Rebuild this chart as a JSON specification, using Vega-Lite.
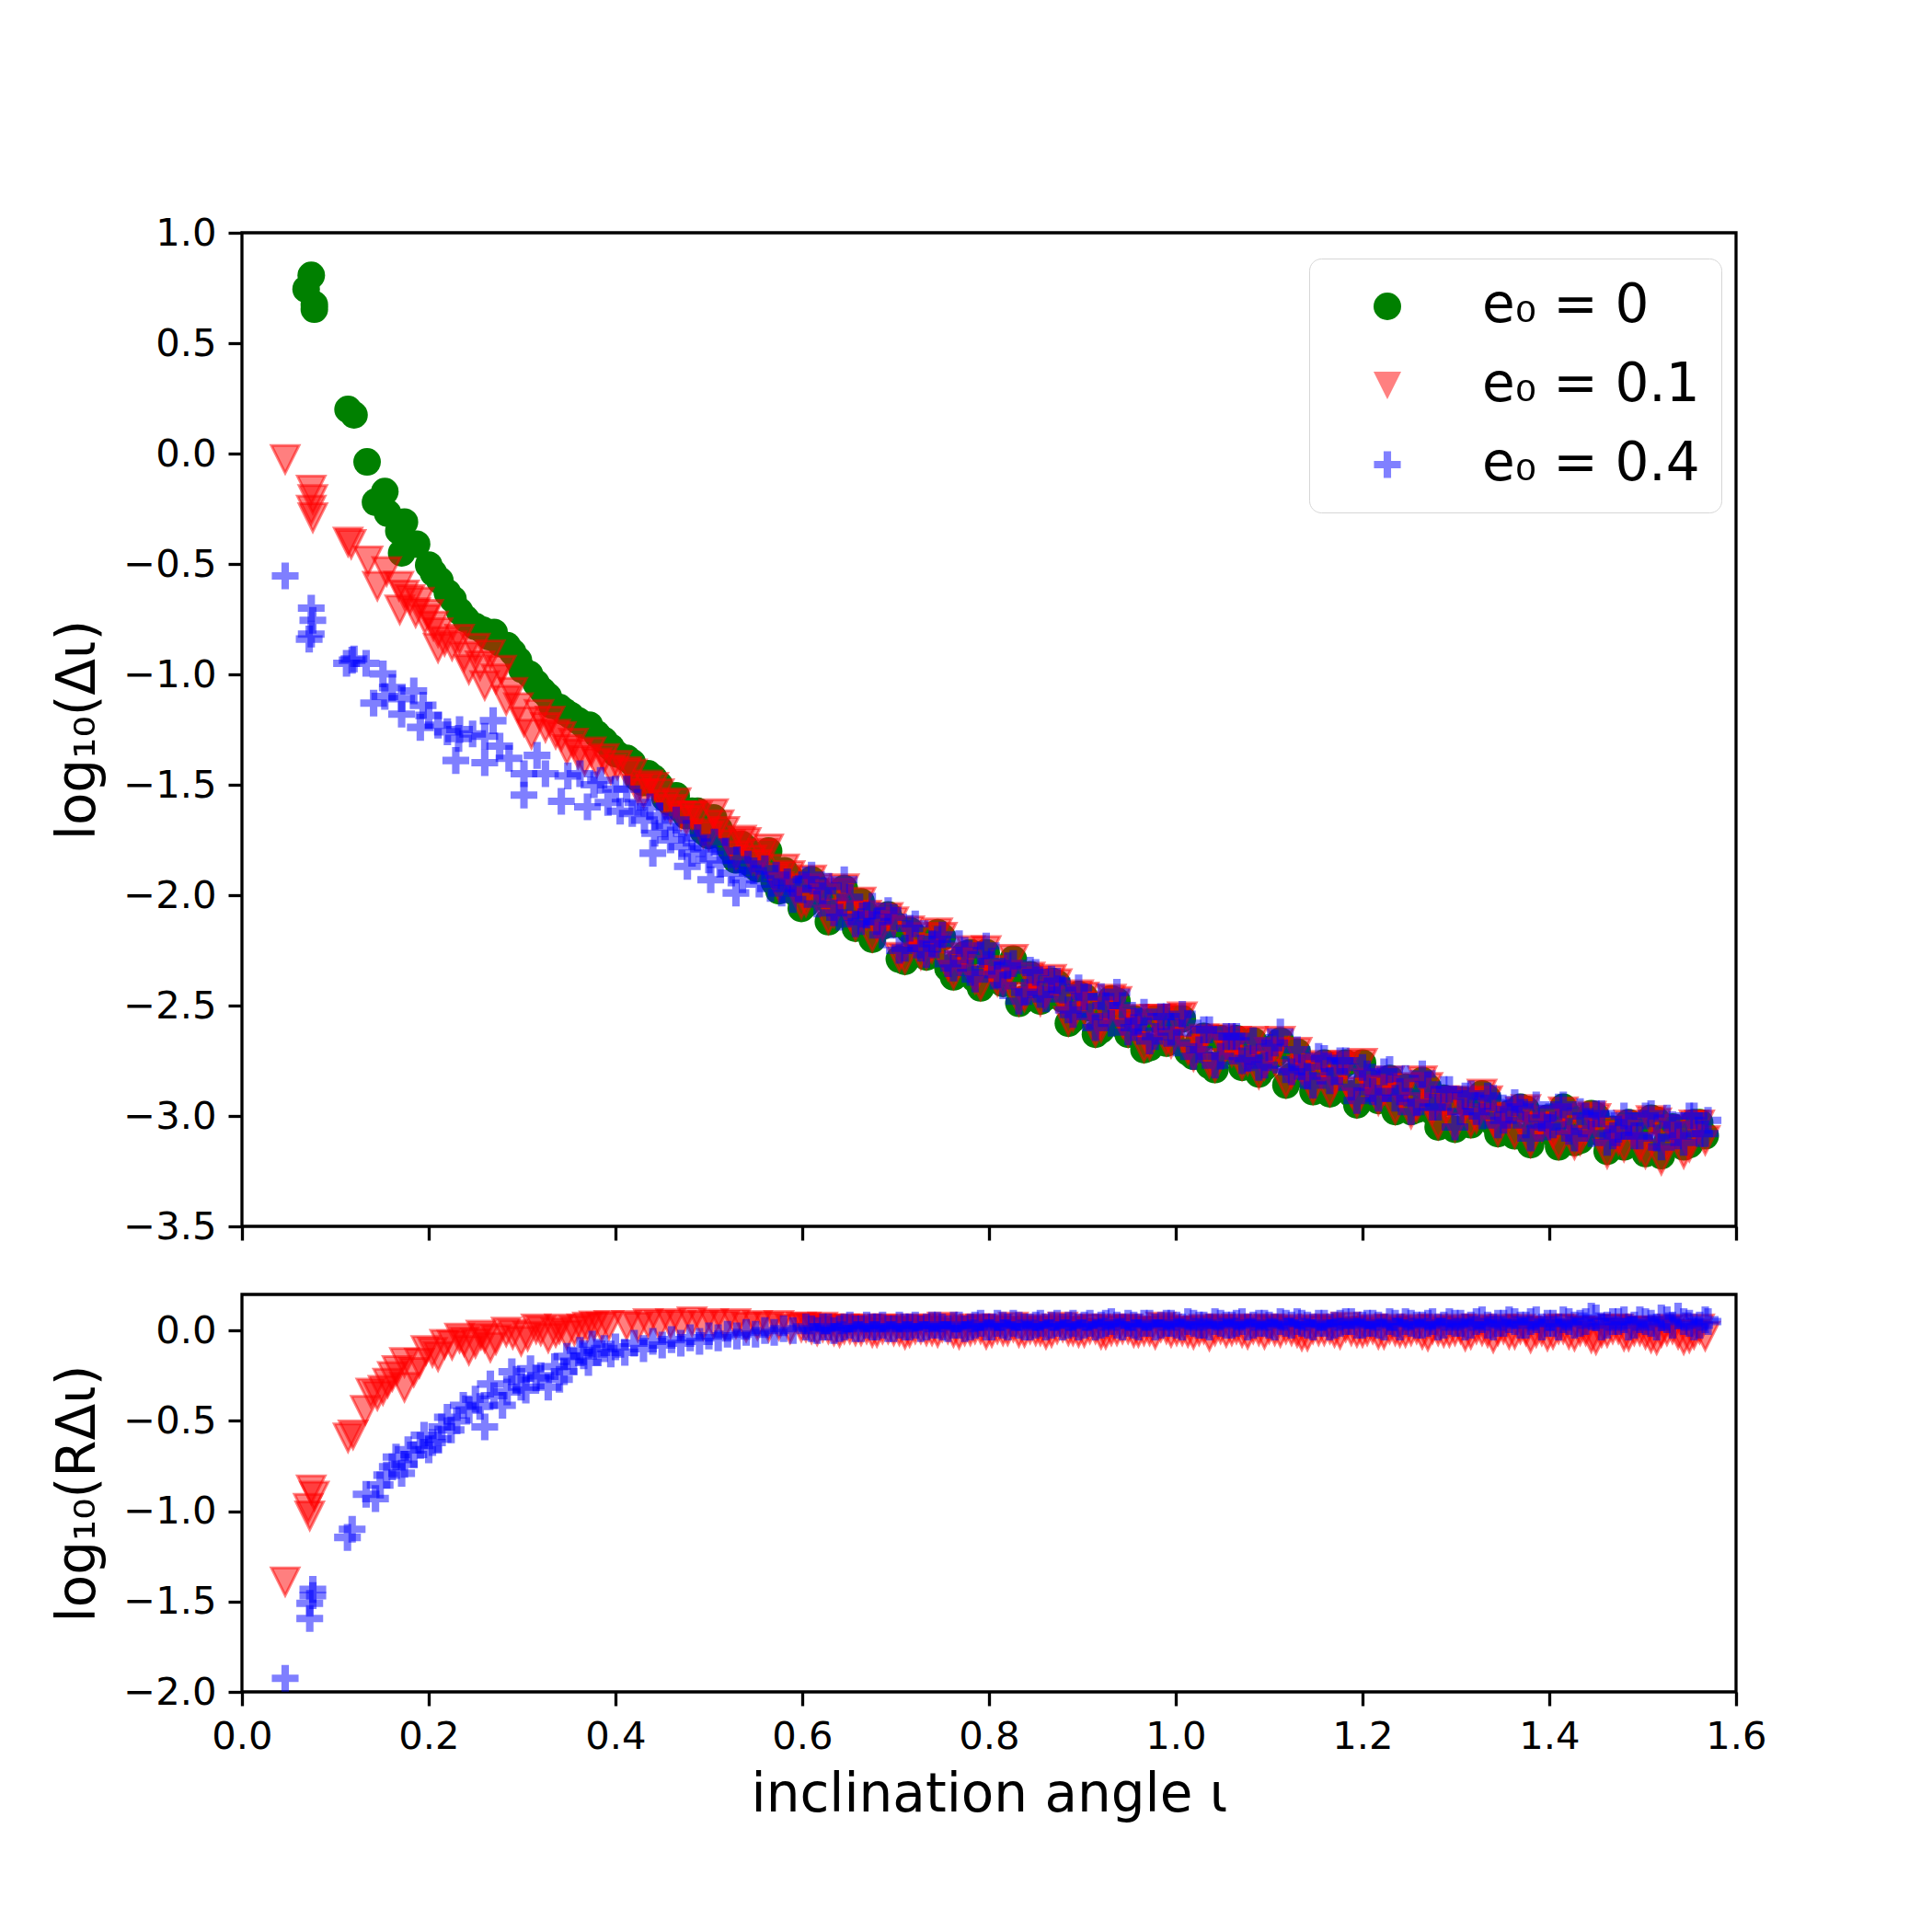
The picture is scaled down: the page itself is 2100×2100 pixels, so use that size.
{
  "$schema": "https://vega.github.io/schema/vega-lite/v6.json",
  "background": "white",
  "padding": {"left": 55, "top": 231, "right": 0, "bottom": 0},
  "datasets": {
    "top": [
      {"s":"g","x":0.0742,"y":0.807},{"s":"g","x":0.0687,"y":0.745},{"s":"g","x":0.0775,"y":0.675},{"s":"g","x":0.0775,"y":0.654},
      {"s":"g","x":0.1136,"y":0.2},{"s":"g","x":0.12,"y":0.175},{"s":"g","x":0.134,"y":-0.038},{"s":"g","x":0.153,"y":-0.172},
      {"s":"g","x":0.143,"y":-0.22},{"s":"g","x":0.156,"y":-0.27},{"s":"g","x":0.174,"y":-0.31},{"s":"g","x":0.168,"y":-0.35},
      {"s":"g","x":0.187,"y":-0.41},{"s":"g","x":0.171,"y":-0.45},{"s":"g","x":0.2,"y":-0.505},{"s":"g","x":0.205,"y":-0.54},
      {"s":"g","x":0.212,"y":-0.575},{"s":"g","x":0.22,"y":-0.63},{"s":"g","x":0.226,"y":-0.66},{"s":"g","x":0.233,"y":-0.714},
      {"s":"g","x":0.24,"y":-0.75},{"s":"g","x":0.25,"y":-0.783},{"s":"g","x":0.258,"y":-0.8},{"s":"g","x":0.265,"y":-0.83},
      {"s":"g","x":0.27,"y":-0.81},{"s":"g","x":0.277,"y":-0.86},{"s":"g","x":0.284,"y":-0.87},{"s":"g","x":0.29,"y":-0.9},
      {"s":"g","x":0.296,"y":-0.936},{"s":"g","x":0.3,"y":-0.978},{"s":"g","x":0.308,"y":-1.0},{"s":"g","x":0.315,"y":-1.04},
      {"s":"g","x":0.322,"y":-1.075},{"s":"g","x":0.328,"y":-1.1},{"s":"g","x":0.332,"y":-1.14},{"s":"g","x":0.34,"y":-1.15},
      {"s":"g","x":0.346,"y":-1.17},{"s":"g","x":0.352,"y":-1.186},{"s":"g","x":0.36,"y":-1.21},{"s":"g","x":0.366,"y":-1.23},
      {"s":"g","x":0.372,"y":-1.23},{"s":"g","x":0.38,"y":-1.27},{"s":"g","x":0.388,"y":-1.3},{"s":"g","x":0.395,"y":-1.33},
      {"s":"g","x":0.401,"y":-1.36},
      {"s":"g","x":0.412,"y":-1.38},{"s":"g","x":0.424,"y":-1.47},{"s":"g","x":0.435,"y":-1.45},{"s":"g","x":0.447,"y":-1.5},
      {"s":"g","x":0.459,"y":-1.58},{"s":"g","x":0.47,"y":-1.61},{"s":"g","x":0.482,"y":-1.62},{"s":"g","x":0.494,"y":-1.71},
      {"s":"g","x":0.505,"y":-1.65},{"s":"g","x":0.517,"y":-1.74},{"s":"g","x":0.529,"y":-1.84},{"s":"g","x":0.54,"y":-1.79},
      {"s":"g","x":0.552,"y":-1.88},{"s":"g","x":0.564,"y":-1.8},{"s":"g","x":0.575,"y":-1.98},{"s":"g","x":0.587,"y":-1.92},
      {"s":"g","x":0.599,"y":-2.06},{"s":"g","x":0.61,"y":-1.93},{"s":"g","x":0.622,"y":-2.01},{"s":"g","x":0.634,"y":-2.09},
      {"s":"g","x":0.645,"y":-1.97},{"s":"g","x":0.657,"y":-2.15},{"s":"g","x":0.669,"y":-2.09},{"s":"g","x":0.68,"y":-2.15},
      {"s":"g","x":0.692,"y":-2.09},{"s":"g","x":0.704,"y":-2.29},{"s":"g","x":0.715,"y":-2.16},{"s":"g","x":0.727,"y":-2.26},
      {"s":"g","x":0.739,"y":-2.25},{"s":"g","x":0.75,"y":-2.19},{"s":"g","x":0.762,"y":-2.37},{"s":"g","x":0.774,"y":-2.27},
      {"s":"g","x":0.785,"y":-2.38},{"s":"g","x":0.797,"y":-2.26},{"s":"g","x":0.809,"y":-2.38},{"s":"g","x":0.82,"y":-2.36},
      {"s":"g","x":0.832,"y":-2.49},{"s":"g","x":0.844,"y":-2.36},{"s":"g","x":0.855,"y":-2.48},{"s":"g","x":0.867,"y":-2.39},
      {"s":"g","x":0.879,"y":-2.47},{"s":"g","x":0.89,"y":-2.56},{"s":"g","x":0.902,"y":-2.46},{"s":"g","x":0.914,"y":-2.63},
      {"s":"g","x":0.925,"y":-2.52},{"s":"g","x":0.937,"y":-2.48},{"s":"g","x":0.949,"y":-2.63},{"s":"g","x":0.96,"y":-2.59},
      {"s":"g","x":0.972,"y":-2.69},{"s":"g","x":0.984,"y":-2.56},{"s":"g","x":0.995,"y":-2.66},{"s":"g","x":1.007,"y":-2.56},
      {"s":"g","x":1.019,"y":-2.73},{"s":"g","x":1.03,"y":-2.64},{"s":"g","x":1.042,"y":-2.79},{"s":"g","x":1.054,"y":-2.68},
      {"s":"g","x":1.065,"y":-2.65},{"s":"g","x":1.077,"y":-2.76},{"s":"g","x":1.089,"y":-2.81},{"s":"g","x":1.1,"y":-2.7},
      {"s":"g","x":1.112,"y":-2.66},{"s":"g","x":1.124,"y":-2.82},{"s":"g","x":1.135,"y":-2.78},{"s":"g","x":1.147,"y":-2.89},
      {"s":"g","x":1.159,"y":-2.76},{"s":"g","x":1.17,"y":-2.84},{"s":"g","x":1.182,"y":-2.76},{"s":"g","x":1.194,"y":-2.95},
      {"s":"g","x":1.205,"y":-2.84},{"s":"g","x":1.217,"y":-2.93},{"s":"g","x":1.229,"y":-2.83},{"s":"g","x":1.24,"y":-2.91},
      {"s":"g","x":1.252,"y":-2.98},{"s":"g","x":1.264,"y":-2.84},{"s":"g","x":1.275,"y":-2.98},{"s":"g","x":1.287,"y":-2.92},
      {"s":"g","x":1.299,"y":-3.06},{"s":"g","x":1.31,"y":-2.93},{"s":"g","x":1.322,"y":-3.01},{"s":"g","x":1.334,"y":-2.92},
      {"s":"g","x":1.345,"y":-3.08},{"s":"g","x":1.357,"y":-2.99},{"s":"g","x":1.369,"y":-2.96},{"s":"g","x":1.38,"y":-3.13},
      {"s":"g","x":1.392,"y":-3.03},{"s":"g","x":1.404,"y":-3.08},{"s":"g","x":1.415,"y":-2.96},{"s":"g","x":1.427,"y":-3.12},
      {"s":"g","x":1.439,"y":-3.03},{"s":"g","x":1.45,"y":-3.0},{"s":"g","x":1.462,"y":-3.16},{"s":"g","x":1.474,"y":-3.08},
      {"s":"g","x":1.485,"y":-3.03},{"s":"g","x":1.497,"y":-3.12},{"s":"g","x":1.509,"y":-3.01},{"s":"g","x":1.52,"y":-3.18},
      {"s":"g","x":1.532,"y":-3.05},{"s":"g","x":1.544,"y":-3.14},{"s":"g","x":1.555,"y":-3.03},{"s":"g","x":1.567,"y":-3.09},
      {"s":"g","x":0.418,"y":-1.4},{"s":"g","x":0.43,"y":-1.49},{"s":"g","x":0.441,"y":-1.47},{"s":"g","x":0.453,"y":-1.56},
      {"s":"g","x":0.465,"y":-1.55},{"s":"g","x":0.476,"y":-1.64},{"s":"g","x":0.488,"y":-1.62},{"s":"g","x":0.5,"y":-1.73},
      {"s":"g","x":0.511,"y":-1.7},{"s":"g","x":0.523,"y":-1.79},{"s":"g","x":0.535,"y":-1.77},{"s":"g","x":0.546,"y":-1.86},
      {"s":"g","x":0.558,"y":-1.83},{"s":"g","x":0.57,"y":-1.94},{"s":"g","x":0.581,"y":-1.89},{"s":"g","x":0.593,"y":-1.99},
      {"s":"g","x":0.604,"y":-2.04},{"s":"g","x":0.616,"y":-1.97},{"s":"g","x":0.628,"y":-2.12},{"s":"g","x":0.64,"y":-1.99},
      {"s":"g","x":0.651,"y":-2.1},{"s":"g","x":0.663,"y":-2.03},{"s":"g","x":0.675,"y":-2.2},{"s":"g","x":0.686,"y":-2.14},
      {"s":"g","x":0.698,"y":-2.13},{"s":"g","x":0.71,"y":-2.3},{"s":"g","x":0.721,"y":-2.19},{"s":"g","x":0.733,"y":-2.28},
      {"s":"g","x":0.745,"y":-2.17},{"s":"g","x":0.756,"y":-2.33},{"s":"g","x":0.768,"y":-2.3},{"s":"g","x":0.78,"y":-2.26},
      {"s":"g","x":0.791,"y":-2.42},{"s":"g","x":0.803,"y":-2.34},{"s":"g","x":0.815,"y":-2.4},{"s":"g","x":0.826,"y":-2.29},
      {"s":"g","x":0.838,"y":-2.47},{"s":"g","x":0.85,"y":-2.39},{"s":"g","x":0.861,"y":-2.46},{"s":"g","x":0.873,"y":-2.4},
      {"s":"g","x":0.885,"y":-2.58},{"s":"g","x":0.896,"y":-2.45},{"s":"g","x":0.908,"y":-2.51},{"s":"g","x":0.92,"y":-2.61},
      {"s":"g","x":0.931,"y":-2.47},{"s":"g","x":0.943,"y":-2.59},{"s":"g","x":0.955,"y":-2.56},{"s":"g","x":0.966,"y":-2.7},
      {"s":"g","x":0.978,"y":-2.56},{"s":"g","x":0.99,"y":-2.67},{"s":"g","x":1.001,"y":-2.56},{"s":"g","x":1.013,"y":-2.71},
      {"s":"g","x":1.025,"y":-2.66},{"s":"g","x":1.036,"y":-2.77},{"s":"g","x":1.048,"y":-2.65},{"s":"g","x":1.06,"y":-2.71},
      {"s":"g","x":1.071,"y":-2.78},{"s":"g","x":1.083,"y":-2.66},{"s":"g","x":1.095,"y":-2.78},{"s":"g","x":1.106,"y":-2.72},
      {"s":"g","x":1.118,"y":-2.86},{"s":"g","x":1.13,"y":-2.71},{"s":"g","x":1.141,"y":-2.81},{"s":"g","x":1.153,"y":-2.78},
      {"s":"g","x":1.165,"y":-2.9},{"s":"g","x":1.176,"y":-2.78},{"s":"g","x":1.188,"y":-2.9},{"s":"g","x":1.2,"y":-2.76},
      {"s":"g","x":1.211,"y":-2.89},{"s":"g","x":1.223,"y":-2.88},{"s":"g","x":1.235,"y":-2.98},{"s":"g","x":1.246,"y":-2.87},
      {"s":"g","x":1.258,"y":-2.97},{"s":"g","x":1.27,"y":-2.87},{"s":"g","x":1.281,"y":-3.05},{"s":"g","x":1.293,"y":-2.94},
      {"s":"g","x":1.305,"y":-2.93},{"s":"g","x":1.316,"y":-3.04},{"s":"g","x":1.328,"y":-2.9},{"s":"g","x":1.34,"y":-3.03},
      {"s":"g","x":1.351,"y":-3.01},{"s":"g","x":1.363,"y":-3.09},{"s":"g","x":1.375,"y":-2.97},{"s":"g","x":1.386,"y":-3.05},
      {"s":"g","x":1.398,"y":-3.01},{"s":"g","x":1.41,"y":-3.14},{"s":"g","x":1.421,"y":-3.0},{"s":"g","x":1.433,"y":-3.11},
      {"s":"g","x":1.445,"y":-2.99},{"s":"g","x":1.456,"y":-3.08},{"s":"g","x":1.468,"y":-3.06},{"s":"g","x":1.48,"y":-3.14},
      {"s":"g","x":1.491,"y":-3.05},{"s":"g","x":1.503,"y":-3.17},{"s":"g","x":1.515,"y":-3.02},{"s":"g","x":1.526,"y":-3.12},
      {"s":"g","x":1.538,"y":-3.08},{"s":"g","x":1.55,"y":-3.13},{"s":"g","x":1.561,"y":-3.03},

      {"s":"r","x":0.0463,"y":-0.026},{"s":"r","x":0.0742,"y":-0.165},{"s":"r","x":0.0759,"y":-0.207},{"s":"r","x":0.0742,"y":-0.255},
      {"s":"r","x":0.0759,"y":-0.29},{"s":"r","x":0.1136,"y":-0.4},{"s":"r","x":0.117,"y":-0.41},{"s":"r","x":0.135,"y":-0.485},
      {"s":"r","x":0.155,"y":-0.533},{"s":"r","x":0.145,"y":-0.6},{"s":"r","x":0.168,"y":-0.6},{"s":"r","x":0.174,"y":-0.64},
      {"s":"r","x":0.169,"y":-0.707},{"s":"r","x":0.18,"y":-0.66},{"s":"r","x":0.186,"y":-0.72},{"s":"r","x":0.19,"y":-0.672},
      {"s":"r","x":0.196,"y":-0.75},{"s":"r","x":0.2,"y":-0.727},{"s":"r","x":0.205,"y":-0.78},{"s":"r","x":0.21,"y":-0.81},
      {"s":"r","x":0.217,"y":-0.85},{"s":"r","x":0.21,"y":-0.88},{"s":"r","x":0.225,"y":-0.87},{"s":"r","x":0.233,"y":-0.84},
      {"s":"r","x":0.238,"y":-0.92},{"s":"r","x":0.243,"y":-0.978},{"s":"r","x":0.25,"y":-0.88},{"s":"r","x":0.255,"y":-0.96},
      {"s":"r","x":0.26,"y":-1.05},{"s":"r","x":0.266,"y":-0.91},{"s":"r","x":0.272,"y":-1.02},{"s":"r","x":0.278,"y":-0.98},
      {"s":"r","x":0.283,"y":-1.117},{"s":"r","x":0.29,"y":-1.08},{"s":"r","x":0.296,"y":-1.15},{"s":"r","x":0.302,"y":-1.214},
      {"s":"r","x":0.31,"y":-1.27},{"s":"r","x":0.318,"y":-1.18},{"s":"r","x":0.325,"y":-1.24},{"s":"r","x":0.33,"y":-1.21},
      {"s":"r","x":0.336,"y":-1.27},{"s":"r","x":0.342,"y":-1.28},{"s":"r","x":0.348,"y":-1.34},{"s":"r","x":0.355,"y":-1.31},
      {"s":"r","x":0.36,"y":-1.36},{"s":"r","x":0.367,"y":-1.39},{"s":"r","x":0.374,"y":-1.35},{"s":"r","x":0.38,"y":-1.4},
      {"s":"r","x":0.388,"y":-1.38},{"s":"r","x":0.395,"y":-1.43},{"s":"r","x":0.402,"y":-1.41},
      {"s":"r","x":0.412,"y":-1.44},{"s":"r","x":0.424,"y":-1.52},{"s":"r","x":0.435,"y":-1.5},{"s":"r","x":0.447,"y":-1.54},
      {"s":"r","x":0.459,"y":-1.61},{"s":"r","x":0.47,"y":-1.64},{"s":"r","x":0.482,"y":-1.64},{"s":"r","x":0.494,"y":-1.72},
      {"s":"r","x":0.505,"y":-1.63},{"s":"r","x":0.517,"y":-1.71},{"s":"r","x":0.529,"y":-1.82},{"s":"r","x":0.54,"y":-1.76},
      {"s":"r","x":0.552,"y":-1.86},{"s":"r","x":0.564,"y":-1.79},{"s":"r","x":0.575,"y":-1.96},{"s":"r","x":0.587,"y":-1.91},
      {"s":"r","x":0.599,"y":-2.04},{"s":"r","x":0.61,"y":-1.93},{"s":"r","x":0.622,"y":-2.0},{"s":"r","x":0.634,"y":-2.08},
      {"s":"r","x":0.645,"y":-1.97},{"s":"r","x":0.657,"y":-2.14},{"s":"r","x":0.669,"y":-2.09},{"s":"r","x":0.68,"y":-2.14},
      {"s":"r","x":0.692,"y":-2.1},{"s":"r","x":0.704,"y":-2.28},{"s":"r","x":0.715,"y":-2.16},{"s":"r","x":0.727,"y":-2.27},
      {"s":"r","x":0.739,"y":-2.24},{"s":"r","x":0.75,"y":-2.19},{"s":"r","x":0.762,"y":-2.36},{"s":"r","x":0.774,"y":-2.28},
      {"s":"r","x":0.785,"y":-2.38},{"s":"r","x":0.797,"y":-2.25},{"s":"r","x":0.809,"y":-2.39},{"s":"r","x":0.82,"y":-2.36},
      {"s":"r","x":0.832,"y":-2.48},{"s":"r","x":0.844,"y":-2.37},{"s":"r","x":0.855,"y":-2.48},{"s":"r","x":0.867,"y":-2.38},
      {"s":"r","x":0.879,"y":-2.48},{"s":"r","x":0.89,"y":-2.55},{"s":"r","x":0.902,"y":-2.46},{"s":"r","x":0.914,"y":-2.62},
      {"s":"r","x":0.925,"y":-2.53},{"s":"r","x":0.937,"y":-2.48},{"s":"r","x":0.949,"y":-2.62},{"s":"r","x":0.96,"y":-2.6},
      {"s":"r","x":0.972,"y":-2.68},{"s":"r","x":0.984,"y":-2.56},{"s":"r","x":0.995,"y":-2.67},{"s":"r","x":1.007,"y":-2.55},
      {"s":"r","x":1.019,"y":-2.73},{"s":"r","x":1.03,"y":-2.65},{"s":"r","x":1.042,"y":-2.78},{"s":"r","x":1.054,"y":-2.68},
      {"s":"r","x":1.065,"y":-2.66},{"s":"r","x":1.077,"y":-2.75},{"s":"r","x":1.089,"y":-2.81},{"s":"r","x":1.1,"y":-2.71},
      {"s":"r","x":1.112,"y":-2.66},{"s":"r","x":1.124,"y":-2.81},{"s":"r","x":1.135,"y":-2.79},{"s":"r","x":1.147,"y":-2.88},
      {"s":"r","x":1.159,"y":-2.77},{"s":"r","x":1.17,"y":-2.84},{"s":"r","x":1.182,"y":-2.77},{"s":"r","x":1.194,"y":-2.94},
      {"s":"r","x":1.205,"y":-2.85},{"s":"r","x":1.217,"y":-2.93},{"s":"r","x":1.229,"y":-2.84},{"s":"r","x":1.24,"y":-2.9},
      {"s":"r","x":1.252,"y":-2.99},{"s":"r","x":1.264,"y":-2.84},{"s":"r","x":1.275,"y":-2.97},{"s":"r","x":1.287,"y":-2.93},
      {"s":"r","x":1.299,"y":-3.05},{"s":"r","x":1.31,"y":-2.94},{"s":"r","x":1.322,"y":-3.01},{"s":"r","x":1.334,"y":-2.93},
      {"s":"r","x":1.345,"y":-3.07},{"s":"r","x":1.357,"y":-3.0},{"s":"r","x":1.369,"y":-2.98},{"s":"r","x":1.38,"y":-3.12},
      {"s":"r","x":1.392,"y":-3.05},{"s":"r","x":1.404,"y":-3.08},{"s":"r","x":1.415,"y":-2.98},{"s":"r","x":1.427,"y":-3.13},
      {"s":"r","x":1.439,"y":-3.06},{"s":"r","x":1.45,"y":-3.01},{"s":"r","x":1.462,"y":-3.17},{"s":"r","x":1.474,"y":-3.11},
      {"s":"r","x":1.485,"y":-3.04},{"s":"r","x":1.497,"y":-3.14},{"s":"r","x":1.509,"y":-3.02},{"s":"r","x":1.52,"y":-3.2},
      {"s":"r","x":1.532,"y":-3.06},{"s":"r","x":1.544,"y":-3.17},{"s":"r","x":1.555,"y":-3.04},{"s":"r","x":1.567,"y":-3.11},
      {"s":"r","x":0.418,"y":-1.45},{"s":"r","x":0.43,"y":-1.54},{"s":"r","x":0.441,"y":-1.51},{"s":"r","x":0.453,"y":-1.59},
      {"s":"r","x":0.465,"y":-1.58},{"s":"r","x":0.476,"y":-1.66},{"s":"r","x":0.488,"y":-1.64},{"s":"r","x":0.5,"y":-1.73},
      {"s":"r","x":0.511,"y":-1.68},{"s":"r","x":0.523,"y":-1.77},{"s":"r","x":0.535,"y":-1.75},{"s":"r","x":0.546,"y":-1.84},
      {"s":"r","x":0.558,"y":-1.81},{"s":"r","x":0.57,"y":-1.92},{"s":"r","x":0.581,"y":-1.88},{"s":"r","x":0.593,"y":-1.97},
      {"s":"r","x":0.604,"y":-2.03},{"s":"r","x":0.616,"y":-1.97},{"s":"r","x":0.628,"y":-2.11},{"s":"r","x":0.64,"y":-1.99},
      {"s":"r","x":0.651,"y":-2.09},{"s":"r","x":0.663,"y":-2.03},{"s":"r","x":0.675,"y":-2.19},{"s":"r","x":0.686,"y":-2.14},
      {"s":"r","x":0.698,"y":-2.12},{"s":"r","x":0.71,"y":-2.29},{"s":"r","x":0.721,"y":-2.19},{"s":"r","x":0.733,"y":-2.27},
      {"s":"r","x":0.745,"y":-2.17},{"s":"r","x":0.756,"y":-2.32},{"s":"r","x":0.768,"y":-2.3},{"s":"r","x":0.78,"y":-2.25},
      {"s":"r","x":0.791,"y":-2.41},{"s":"r","x":0.803,"y":-2.34},{"s":"r","x":0.815,"y":-2.39},{"s":"r","x":0.826,"y":-2.29},
      {"s":"r","x":0.838,"y":-2.46},{"s":"r","x":0.85,"y":-2.39},{"s":"r","x":0.861,"y":-2.45},{"s":"r","x":0.873,"y":-2.4},
      {"s":"r","x":0.885,"y":-2.57},{"s":"r","x":0.896,"y":-2.45},{"s":"r","x":0.908,"y":-2.5},{"s":"r","x":0.92,"y":-2.6},
      {"s":"r","x":0.931,"y":-2.47},{"s":"r","x":0.943,"y":-2.58},{"s":"r","x":0.955,"y":-2.56},{"s":"r","x":0.966,"y":-2.69},
      {"s":"r","x":0.978,"y":-2.56},{"s":"r","x":0.99,"y":-2.66},{"s":"r","x":1.001,"y":-2.56},{"s":"r","x":1.013,"y":-2.7},
      {"s":"r","x":1.025,"y":-2.66},{"s":"r","x":1.036,"y":-2.76},{"s":"r","x":1.048,"y":-2.65},{"s":"r","x":1.06,"y":-2.71},
      {"s":"r","x":1.071,"y":-2.77},{"s":"r","x":1.083,"y":-2.66},{"s":"r","x":1.095,"y":-2.77},{"s":"r","x":1.106,"y":-2.72},
      {"s":"r","x":1.118,"y":-2.85},{"s":"r","x":1.13,"y":-2.71},{"s":"r","x":1.141,"y":-2.8},{"s":"r","x":1.153,"y":-2.78},
      {"s":"r","x":1.165,"y":-2.89},{"s":"r","x":1.176,"y":-2.78},{"s":"r","x":1.188,"y":-2.89},{"s":"r","x":1.2,"y":-2.76},
      {"s":"r","x":1.211,"y":-2.88},{"s":"r","x":1.223,"y":-2.88},{"s":"r","x":1.235,"y":-2.97},{"s":"r","x":1.246,"y":-2.87},
      {"s":"r","x":1.258,"y":-2.96},{"s":"r","x":1.27,"y":-2.87},{"s":"r","x":1.281,"y":-3.04},{"s":"r","x":1.293,"y":-2.94},
      {"s":"r","x":1.305,"y":-2.93},{"s":"r","x":1.316,"y":-3.03},{"s":"r","x":1.328,"y":-2.9},{"s":"r","x":1.34,"y":-3.02},
      {"s":"r","x":1.351,"y":-3.01},{"s":"r","x":1.363,"y":-3.08},{"s":"r","x":1.375,"y":-2.97},{"s":"r","x":1.386,"y":-3.05},
      {"s":"r","x":1.398,"y":-3.02},{"s":"r","x":1.41,"y":-3.13},{"s":"r","x":1.421,"y":-3.01},{"s":"r","x":1.433,"y":-3.11},
      {"s":"r","x":1.445,"y":-3.0},{"s":"r","x":1.456,"y":-3.09},{"s":"r","x":1.468,"y":-3.07},{"s":"r","x":1.48,"y":-3.14},
      {"s":"r","x":1.491,"y":-3.06},{"s":"r","x":1.503,"y":-3.17},{"s":"r","x":1.515,"y":-3.03},{"s":"r","x":1.526,"y":-3.13},
      {"s":"r","x":1.538,"y":-3.09},{"s":"r","x":1.55,"y":-3.14},{"s":"r","x":1.561,"y":-3.04},

      {"s":"b","x":0.0463,"y":-0.554},{"s":"b","x":0.0742,"y":-0.7},{"s":"b","x":0.0759,"y":-0.755},{"s":"b","x":0.0742,"y":-0.818},
      {"s":"b","x":0.072,"y":-0.84},{"s":"b","x":0.112,"y":-0.95},{"s":"b","x":0.118,"y":-0.936},{"s":"b","x":0.12,"y":-0.93},
      {"s":"b","x":0.133,"y":-0.95},{"s":"b","x":0.151,"y":-0.998},{"s":"b","x":0.161,"y":-1.06},{"s":"b","x":0.141,"y":-1.13},
      {"s":"b","x":0.153,"y":-1.1},{"s":"b","x":0.171,"y":-1.11},{"s":"b","x":0.184,"y":-1.075},{"s":"b","x":0.171,"y":-1.18},
      {"s":"b","x":0.194,"y":-1.14},{"s":"b","x":0.2,"y":-1.186},{"s":"b","x":0.191,"y":-1.24},{"s":"b","x":0.21,"y":-1.23},
      {"s":"b","x":0.22,"y":-1.26},{"s":"b","x":0.233,"y":-1.25},{"s":"b","x":0.247,"y":-1.27},{"s":"b","x":0.232,"y":-1.29},
      {"s":"b","x":0.229,"y":-1.39},{"s":"b","x":0.26,"y":-1.28},{"s":"b","x":0.269,"y":-1.21},{"s":"b","x":0.26,"y":-1.4},
      {"s":"b","x":0.276,"y":-1.325},{"s":"b","x":0.286,"y":-1.38},{"s":"b","x":0.302,"y":-1.45},{"s":"b","x":0.302,"y":-1.547},
      {"s":"b","x":0.316,"y":-1.367},{"s":"b","x":0.325,"y":-1.45},{"s":"b","x":0.342,"y":-1.575},{"s":"b","x":0.349,"y":-1.46},
      {"s":"b","x":0.362,"y":-1.45},{"s":"b","x":0.37,"y":-1.6},{"s":"b","x":0.377,"y":-1.5},{"s":"b","x":0.384,"y":-1.48},
      {"s":"b","x":0.392,"y":-1.58},{"s":"b","x":0.4,"y":-1.52},{"s":"b","x":0.405,"y":-1.62},
      {"s":"b","x":0.412,"y":-1.52},{"s":"b","x":0.418,"y":-1.63},{"s":"b","x":0.424,"y":-1.58},{"s":"b","x":0.431,"y":-1.66},
      {"s":"b","x":0.437,"y":-1.6},{"s":"b","x":0.442,"y":-1.72},{"s":"b","x":0.44,"y":-1.81},{"s":"b","x":0.447,"y":-1.64},
      {"s":"b","x":0.453,"y":-1.69},{"s":"b","x":0.459,"y":-1.75},{"s":"b","x":0.465,"y":-1.66},{"s":"b","x":0.471,"y":-1.78},
      {"s":"b","x":0.476,"y":-1.72},{"s":"b","x":0.477,"y":-1.87},{"s":"b","x":0.482,"y":-1.81},{"s":"b","x":0.488,"y":-1.74},
      {"s":"b","x":0.494,"y":-1.79},{"s":"b","x":0.5,"y":-1.84},{"s":"b","x":0.502,"y":-1.93},{"s":"b","x":0.506,"y":-1.76},
      {"s":"b","x":0.512,"y":-1.86},{"s":"b","x":0.518,"y":-1.8},{"s":"b","x":0.524,"y":-1.9},{"s":"b","x":0.53,"y":-1.84},
      {"s":"b","x":0.529,"y":-1.99},{"s":"b","x":0.536,"y":-1.93},{"s":"b","x":0.542,"y":-1.86},{"s":"b","x":0.548,"y":-1.89},
      {"s":"b","x":0.554,"y":-1.95},{"s":"b","x":0.56,"y":-1.88},{"s":"b","x":0.566,"y":-1.97},{"s":"b","x":0.572,"y":-1.91},
      {"s":"b","x":0.578,"y":-1.99},{"s":"b","x":0.584,"y":-1.94},{"s":"b","x":0.59,"y":-2.02},{"s":"b","x":0.596,"y":-1.97},
      {"s":"b","x":0.604,"y":-1.93},{"s":"b","x":0.616,"y":-2.04},{"s":"b","x":0.628,"y":-1.96},{"s":"b","x":0.64,"y":-2.1},
      {"s":"b","x":0.651,"y":-2.01},{"s":"b","x":0.663,"y":-2.12},{"s":"b","x":0.675,"y":-2.05},{"s":"b","x":0.686,"y":-2.18},
      {"s":"b","x":0.698,"y":-2.1},{"s":"b","x":0.71,"y":-2.24},{"s":"b","x":0.721,"y":-2.13},{"s":"b","x":0.733,"y":-2.27},
      {"s":"b","x":0.745,"y":-2.2},{"s":"b","x":0.756,"y":-2.31},{"s":"b","x":0.768,"y":-2.22},{"s":"b","x":0.78,"y":-2.35},
      {"s":"b","x":0.791,"y":-2.27},{"s":"b","x":0.803,"y":-2.3},{"s":"b","x":0.815,"y":-2.41},{"s":"b","x":0.826,"y":-2.31},
      {"s":"b","x":0.838,"y":-2.44},{"s":"b","x":0.85,"y":-2.35},{"s":"b","x":0.861,"y":-2.47},{"s":"b","x":0.873,"y":-2.39},
      {"s":"b","x":0.885,"y":-2.52},{"s":"b","x":0.896,"y":-2.42},{"s":"b","x":0.908,"y":-2.55},{"s":"b","x":0.92,"y":-2.46},
      {"s":"b","x":0.931,"y":-2.58},{"s":"b","x":0.943,"y":-2.5},{"s":"b","x":0.955,"y":-2.6},{"s":"b","x":0.966,"y":-2.53},
      {"s":"b","x":0.978,"y":-2.64},{"s":"b","x":0.99,"y":-2.55},{"s":"b","x":1.001,"y":-2.67},{"s":"b","x":1.013,"y":-2.58},
      {"s":"b","x":1.025,"y":-2.7},{"s":"b","x":1.036,"y":-2.61},{"s":"b","x":1.048,"y":-2.73},{"s":"b","x":1.06,"y":-2.64},
      {"s":"b","x":1.071,"y":-2.75},{"s":"b","x":1.083,"y":-2.66},{"s":"b","x":1.095,"y":-2.77},{"s":"b","x":1.106,"y":-2.67},
      {"s":"b","x":1.118,"y":-2.79},{"s":"b","x":1.13,"y":-2.7},{"s":"b","x":1.141,"y":-2.82},{"s":"b","x":1.153,"y":-2.73},
      {"s":"b","x":1.165,"y":-2.84},{"s":"b","x":1.176,"y":-2.75},{"s":"b","x":1.188,"y":-2.87},{"s":"b","x":1.2,"y":-2.78},
      {"s":"b","x":1.211,"y":-2.89},{"s":"b","x":1.223,"y":-2.8},{"s":"b","x":1.235,"y":-2.92},{"s":"b","x":1.246,"y":-2.83},
      {"s":"b","x":1.258,"y":-2.94},{"s":"b","x":1.27,"y":-2.86},{"s":"b","x":1.281,"y":-2.96},{"s":"b","x":1.293,"y":-2.88},
      {"s":"b","x":1.305,"y":-2.98},{"s":"b","x":1.316,"y":-2.9},{"s":"b","x":1.328,"y":-3.0},{"s":"b","x":1.34,"y":-2.92},
      {"s":"b","x":1.351,"y":-3.02},{"s":"b","x":1.363,"y":-2.94},{"s":"b","x":1.375,"y":-3.04},{"s":"b","x":1.386,"y":-2.95},
      {"s":"b","x":1.398,"y":-3.05},{"s":"b","x":1.41,"y":-2.96},{"s":"b","x":1.421,"y":-3.07},{"s":"b","x":1.433,"y":-2.98},
      {"s":"b","x":1.445,"y":-3.08},{"s":"b","x":1.456,"y":-2.99},{"s":"b","x":1.468,"y":-3.09},{"s":"b","x":1.48,"y":-3.0},
      {"s":"b","x":1.491,"y":-3.09},{"s":"b","x":1.503,"y":-3.0},{"s":"b","x":1.515,"y":-3.1},{"s":"b","x":1.526,"y":-3.01},
      {"s":"b","x":1.538,"y":-3.09},{"s":"b","x":1.55,"y":-3.0},{"s":"b","x":1.561,"y":-3.08},{"s":"b","x":1.57,"y":-3.02},
      {"s":"b","x":0.61,"y":-1.91},{"s":"b","x":0.622,"y":-1.98},{"s":"b","x":0.634,"y":-2.08},{"s":"b","x":0.645,"y":-1.93},
      {"s":"b","x":0.657,"y":-2.13},{"s":"b","x":0.669,"y":-2.09},{"s":"b","x":0.68,"y":-2.12},{"s":"b","x":0.692,"y":-2.07},
      {"s":"b","x":0.704,"y":-2.25},{"s":"b","x":0.715,"y":-2.15},{"s":"b","x":0.727,"y":-2.24},{"s":"b","x":0.739,"y":-2.22},
      {"s":"b","x":0.75,"y":-2.18},{"s":"b","x":0.762,"y":-2.33},{"s":"b","x":0.774,"y":-2.25},{"s":"b","x":0.785,"y":-2.38},
      {"s":"b","x":0.797,"y":-2.23},{"s":"b","x":0.809,"y":-2.36},{"s":"b","x":0.82,"y":-2.32},{"s":"b","x":0.832,"y":-2.48},
      {"s":"b","x":0.844,"y":-2.34},{"s":"b","x":0.855,"y":-2.45},{"s":"b","x":0.867,"y":-2.38},{"s":"b","x":0.879,"y":-2.43},
      {"s":"b","x":0.89,"y":-2.54},{"s":"b","x":0.902,"y":-2.46},{"s":"b","x":0.914,"y":-2.6},{"s":"b","x":0.925,"y":-2.5},
      {"s":"b","x":0.937,"y":-2.44},{"s":"b","x":0.949,"y":-2.62},{"s":"b","x":0.96,"y":-2.57},{"s":"b","x":0.972,"y":-2.66},
      {"s":"b","x":0.984,"y":-2.55},{"s":"b","x":0.995,"y":-2.62},{"s":"b","x":1.007,"y":-2.54},{"s":"b","x":1.019,"y":-2.73},
      {"s":"b","x":1.03,"y":-2.61},{"s":"b","x":1.042,"y":-2.77},{"s":"b","x":1.054,"y":-2.64},{"s":"b","x":1.065,"y":-2.64},
      {"s":"b","x":1.077,"y":-2.74},{"s":"b","x":1.089,"y":-2.78},{"s":"b","x":1.1,"y":-2.69},{"s":"b","x":1.112,"y":-2.62},
      {"s":"b","x":1.124,"y":-2.8},{"s":"b","x":1.135,"y":-2.78},{"s":"b","x":1.147,"y":-2.86},{"s":"b","x":1.159,"y":-2.74},
      {"s":"b","x":1.17,"y":-2.8},{"s":"b","x":1.182,"y":-2.75},{"s":"b","x":1.194,"y":-2.93},{"s":"b","x":1.205,"y":-2.81},
      {"s":"b","x":1.217,"y":-2.92},{"s":"b","x":1.229,"y":-2.79},{"s":"b","x":1.24,"y":-2.89},{"s":"b","x":1.252,"y":-2.98},
      {"s":"b","x":1.264,"y":-2.81},{"s":"b","x":1.275,"y":-2.96},{"s":"b","x":1.287,"y":-2.88},{"s":"b","x":1.299,"y":-3.05},
      {"s":"b","x":1.31,"y":-2.91},{"s":"b","x":1.322,"y":-2.98},{"s":"b","x":1.334,"y":-2.91},{"s":"b","x":1.345,"y":-3.04},
      {"s":"b","x":1.357,"y":-2.97},{"s":"b","x":1.369,"y":-2.96},{"s":"b","x":1.38,"y":-3.1},{"s":"b","x":1.392,"y":-3.01},
      {"s":"b","x":1.404,"y":-3.04},{"s":"b","x":1.415,"y":-2.95},{"s":"b","x":1.427,"y":-3.1},{"s":"b","x":1.439,"y":-3.0},
      {"s":"b","x":1.45,"y":-2.99},{"s":"b","x":1.462,"y":-3.12},{"s":"b","x":1.474,"y":-3.06},{"s":"b","x":1.485,"y":-3.03},
      {"s":"b","x":1.497,"y":-3.09},{"s":"b","x":1.509,"y":-2.99},{"s":"b","x":1.52,"y":-3.14},{"s":"b","x":1.532,"y":-3.04},
      {"s":"b","x":1.544,"y":-3.12},{"s":"b","x":1.555,"y":-3.0},{"s":"b","x":1.567,"y":-3.08}
    ],
    "bot": [
      {"s":"r","x":0.0463,"y":-1.39},{"s":"r","x":0.0742,"y":-0.881},{"s":"r","x":0.0775,"y":-0.915},{"s":"r","x":0.071,"y":-0.983},
      {"s":"r","x":0.0726,"y":-1.025},{"s":"r","x":0.1136,"y":-0.593},{"s":"r","x":0.119,"y":-0.576},{"s":"r","x":0.132,"y":-0.44},
      {"s":"r","x":0.138,"y":-0.345},{"s":"r","x":0.145,"y":-0.36},{"s":"r","x":0.151,"y":-0.33},{"s":"r","x":0.156,"y":-0.29},
      {"s":"r","x":0.161,"y":-0.253},{"s":"r","x":0.166,"y":-0.22},{"s":"r","x":0.174,"y":-0.176},{"s":"r","x":0.174,"y":-0.313},
      {"s":"r","x":0.184,"y":-0.23},{"s":"r","x":0.19,"y":-0.18},{"s":"r","x":0.197,"y":-0.109},{"s":"r","x":0.204,"y":-0.12},
      {"s":"r","x":0.21,"y":-0.143},{"s":"r","x":0.217,"y":-0.075},{"s":"r","x":0.225,"y":-0.08},{"s":"r","x":0.233,"y":-0.041},
      {"s":"r","x":0.238,"y":-0.06},{"s":"r","x":0.243,"y":-0.109},{"s":"r","x":0.25,"y":-0.07},{"s":"r","x":0.256,"y":-0.024},
      {"s":"r","x":0.26,"y":-0.04},{"s":"r","x":0.266,"y":-0.092},{"s":"r","x":0.272,"y":-0.05},{"s":"r","x":0.283,"y":-0.007},
      {"s":"r","x":0.29,"y":-0.02},{"s":"r","x":0.299,"y":-0.058},{"s":"r","x":0.306,"y":-0.03},{"s":"r","x":0.315,"y":0.01},
      {"s":"r","x":0.32,"y":0.0},{"s":"r","x":0.328,"y":-0.04},{"s":"r","x":0.336,"y":-0.01},{"s":"r","x":0.34,"y":0.01},
      {"s":"r","x":0.348,"y":-0.024},{"s":"r","x":0.356,"y":0.0},{"s":"r","x":0.364,"y":0.01},{"s":"r","x":0.37,"y":0.02},
      {"s":"r","x":0.377,"y":0.027},{"s":"r","x":0.385,"y":0.02},{"s":"r","x":0.393,"y":0.03},
      {"s":"r","x":0.412,"y":0.03},{"s":"r","x":0.424,"y":0.02},{"s":"r","x":0.435,"y":0.04},{"s":"r","x":0.447,"y":0.03},
      {"s":"r","x":0.459,"y":0.04},{"s":"r","x":0.47,"y":0.03},{"s":"r","x":0.482,"y":0.05},{"s":"r","x":0.494,"y":0.03},
      {"s":"r","x":0.505,"y":0.04},{"s":"r","x":0.517,"y":0.03},{"s":"r","x":0.529,"y":0.04},{"s":"r","x":0.54,"y":0.02},
      {"s":"r","x":0.552,"y":0.03},{"s":"r","x":0.564,"y":0.02},{"s":"r","x":0.575,"y":0.03},{"s":"r","x":0.587,"y":0.01},
      {"s":"r","x":0.599,"y":0.02},{"s":"r","x":0.61,"y":0.01},{"s":"r","x":0.622,"y":0.02},{"s":"r","x":0.634,"y":0.0},
      {"s":"r","x":0.645,"y":0.01},{"s":"r","x":0.657,"y":0.0},{"s":"r","x":0.669,"y":0.01},{"s":"r","x":0.68,"y":-0.01},
      {"s":"r","x":0.692,"y":0.01},{"s":"r","x":0.704,"y":0.0},{"s":"r","x":0.715,"y":-0.01},{"s":"r","x":0.727,"y":0.01},
      {"s":"r","x":0.739,"y":0.0},{"s":"r","x":0.75,"y":0.02},{"s":"r","x":0.762,"y":-0.01},{"s":"r","x":0.774,"y":0.0},
      {"s":"r","x":0.785,"y":0.01},{"s":"r","x":0.797,"y":-0.02},{"s":"r","x":0.809,"y":0.01},{"s":"r","x":0.82,"y":0.0},
      {"s":"r","x":0.832,"y":-0.01},{"s":"r","x":0.844,"y":0.01},{"s":"r","x":0.855,"y":0.0},{"s":"r","x":0.867,"y":-0.01},
      {"s":"r","x":0.879,"y":0.02},{"s":"r","x":0.89,"y":0.0},{"s":"r","x":0.902,"y":-0.01},{"s":"r","x":0.914,"y":0.01},
      {"s":"r","x":0.925,"y":-0.02},{"s":"r","x":0.937,"y":0.0},{"s":"r","x":0.949,"y":0.01},{"s":"r","x":0.96,"y":-0.01},
      {"s":"r","x":0.972,"y":0.0},{"s":"r","x":0.984,"y":0.02},{"s":"r","x":0.995,"y":-0.01},{"s":"r","x":1.007,"y":0.0},
      {"s":"r","x":1.019,"y":-0.02},{"s":"r","x":1.03,"y":0.01},{"s":"r","x":1.042,"y":0.0},{"s":"r","x":1.054,"y":-0.01},
      {"s":"r","x":1.065,"y":0.01},{"s":"r","x":1.077,"y":-0.02},{"s":"r","x":1.089,"y":0.0},{"s":"r","x":1.1,"y":0.01},
      {"s":"r","x":1.112,"y":-0.01},{"s":"r","x":1.124,"y":0.0},{"s":"r","x":1.135,"y":-0.03},{"s":"r","x":1.147,"y":0.01},
      {"s":"r","x":1.159,"y":0.0},{"s":"r","x":1.17,"y":-0.01},{"s":"r","x":1.182,"y":0.02},{"s":"r","x":1.194,"y":-0.01},
      {"s":"r","x":1.205,"y":0.0},{"s":"r","x":1.217,"y":-0.02},{"s":"r","x":1.229,"y":0.01},{"s":"r","x":1.24,"y":-0.01},
      {"s":"r","x":1.252,"y":0.0},{"s":"r","x":1.264,"y":-0.02},{"s":"r","x":1.275,"y":0.01},{"s":"r","x":1.287,"y":-0.01},
      {"s":"r","x":1.299,"y":0.0},{"s":"r","x":1.31,"y":-0.03},{"s":"r","x":1.322,"y":0.01},{"s":"r","x":1.334,"y":-0.01},
      {"s":"r","x":1.345,"y":0.0},{"s":"r","x":1.357,"y":-0.02},{"s":"r","x":1.369,"y":0.01},{"s":"r","x":1.38,"y":-0.04},
      {"s":"r","x":1.392,"y":0.0},{"s":"r","x":1.404,"y":-0.02},{"s":"r","x":1.415,"y":0.01},{"s":"r","x":1.427,"y":-0.03},
      {"s":"r","x":1.439,"y":0.0},{"s":"r","x":1.45,"y":-0.05},{"s":"r","x":1.462,"y":-0.01},{"s":"r","x":1.474,"y":0.01},
      {"s":"r","x":1.485,"y":-0.03},{"s":"r","x":1.497,"y":0.0},{"s":"r","x":1.509,"y":-0.04},{"s":"r","x":1.52,"y":-0.01},
      {"s":"r","x":1.532,"y":0.01},{"s":"r","x":1.544,"y":-0.05},{"s":"r","x":1.555,"y":-0.02},{"s":"r","x":1.567,"y":-0.03},
      {"s":"r","x":0.604,"y":0.02},{"s":"r","x":0.616,"y":0.0},{"s":"r","x":0.628,"y":0.01},{"s":"r","x":0.64,"y":-0.01},
      {"s":"r","x":0.651,"y":0.01},{"s":"r","x":0.663,"y":0.0},{"s":"r","x":0.675,"y":-0.01},{"s":"r","x":0.686,"y":0.01},
      {"s":"r","x":0.698,"y":0.0},{"s":"r","x":0.71,"y":-0.02},{"s":"r","x":0.721,"y":0.01},{"s":"r","x":0.733,"y":0.0},
      {"s":"r","x":0.745,"y":-0.01},{"s":"r","x":0.756,"y":0.01},{"s":"r","x":0.768,"y":-0.02},{"s":"r","x":0.78,"y":0.0},
      {"s":"r","x":0.791,"y":0.01},{"s":"r","x":0.803,"y":-0.01},{"s":"r","x":0.815,"y":0.0},{"s":"r","x":0.826,"y":0.02},
      {"s":"r","x":0.838,"y":-0.01},{"s":"r","x":0.85,"y":0.0},{"s":"r","x":0.861,"y":-0.02},{"s":"r","x":0.873,"y":0.01},
      {"s":"r","x":0.885,"y":0.0},{"s":"r","x":0.896,"y":-0.01},{"s":"r","x":0.908,"y":0.01},{"s":"r","x":0.92,"y":-0.02},
      {"s":"r","x":0.931,"y":0.0},{"s":"r","x":0.943,"y":0.01},{"s":"r","x":0.955,"y":-0.01},{"s":"r","x":0.966,"y":0.0},
      {"s":"r","x":0.978,"y":-0.02},{"s":"r","x":0.99,"y":0.01},{"s":"r","x":1.001,"y":0.0},{"s":"r","x":1.013,"y":-0.01},
      {"s":"r","x":1.025,"y":0.0},{"s":"r","x":1.036,"y":-0.03},{"s":"r","x":1.048,"y":0.01},{"s":"r","x":1.06,"y":0.0},
      {"s":"r","x":1.071,"y":-0.01},{"s":"r","x":1.083,"y":0.01},{"s":"r","x":1.095,"y":-0.02},{"s":"r","x":1.106,"y":0.0},
      {"s":"r","x":1.118,"y":0.01},{"s":"r","x":1.13,"y":-0.01},{"s":"r","x":1.141,"y":-0.03},{"s":"r","x":1.153,"y":0.0},
      {"s":"r","x":1.165,"y":0.01},{"s":"r","x":1.176,"y":-0.02},{"s":"r","x":1.188,"y":0.0},{"s":"r","x":1.2,"y":-0.01},
      {"s":"r","x":1.211,"y":0.01},{"s":"r","x":1.223,"y":-0.02},{"s":"r","x":1.235,"y":0.0},{"s":"r","x":1.246,"y":-0.01},
      {"s":"r","x":1.258,"y":0.01},{"s":"r","x":1.27,"y":-0.03},{"s":"r","x":1.281,"y":0.0},{"s":"r","x":1.293,"y":-0.01},
      {"s":"r","x":1.305,"y":0.01},{"s":"r","x":1.316,"y":-0.02},{"s":"r","x":1.328,"y":0.0},{"s":"r","x":1.34,"y":-0.04},
      {"s":"r","x":1.351,"y":0.01},{"s":"r","x":1.363,"y":-0.02},{"s":"r","x":1.375,"y":0.0},{"s":"r","x":1.386,"y":-0.01},
      {"s":"r","x":1.398,"y":-0.03},{"s":"r","x":1.41,"y":0.01},{"s":"r","x":1.421,"y":-0.02},{"s":"r","x":1.433,"y":0.0},
      {"s":"r","x":1.445,"y":-0.04},{"s":"r","x":1.456,"y":-0.01},{"s":"r","x":1.468,"y":0.01},{"s":"r","x":1.48,"y":-0.03},
      {"s":"r","x":1.491,"y":0.0},{"s":"r","x":1.503,"y":-0.02},{"s":"r","x":1.515,"y":-0.05},{"s":"r","x":1.526,"y":0.0},
      {"s":"r","x":1.538,"y":-0.02},{"s":"r","x":1.55,"y":-0.04},{"s":"r","x":1.561,"y":0.01},

      {"s":"b","x":0.0463,"y":-1.925},{"s":"b","x":0.0759,"y":-1.433},{"s":"b","x":0.0759,"y":-1.467},{"s":"b","x":0.0726,"y":-1.51},
      {"s":"b","x":0.0726,"y":-1.594},{"s":"b","x":0.118,"y":-1.1},{"s":"b","x":0.113,"y":-1.145},{"s":"b","x":0.133,"y":-0.906},
      {"s":"b","x":0.143,"y":-0.93},{"s":"b","x":0.148,"y":-0.855},{"s":"b","x":0.155,"y":-0.8},{"s":"b","x":0.161,"y":-0.754},
      {"s":"b","x":0.165,"y":-0.7},{"s":"b","x":0.171,"y":-0.79},{"s":"b","x":0.174,"y":-0.74},{"s":"b","x":0.178,"y":-0.66},
      {"s":"b","x":0.184,"y":-0.686},{"s":"b","x":0.191,"y":-0.636},{"s":"b","x":0.195,"y":-0.58},{"s":"b","x":0.2,"y":-0.66},
      {"s":"b","x":0.204,"y":-0.62},{"s":"b","x":0.21,"y":-0.6},{"s":"b","x":0.214,"y":-0.533},{"s":"b","x":0.22,"y":-0.48},
      {"s":"b","x":0.224,"y":-0.55},{"s":"b","x":0.23,"y":-0.5},{"s":"b","x":0.237,"y":-0.414},{"s":"b","x":0.243,"y":-0.44},
      {"s":"b","x":0.25,"y":-0.38},{"s":"b","x":0.255,"y":-0.42},{"s":"b","x":0.26,"y":-0.533},{"s":"b","x":0.266,"y":-0.296},
      {"s":"b","x":0.27,"y":-0.36},{"s":"b","x":0.279,"y":-0.414},{"s":"b","x":0.284,"y":-0.34},{"s":"b","x":0.289,"y":-0.228},
      {"s":"b","x":0.294,"y":-0.27},{"s":"b","x":0.299,"y":-0.313},{"s":"b","x":0.304,"y":-0.33},{"s":"b","x":0.309,"y":-0.211},
      {"s":"b","x":0.315,"y":-0.262},{"s":"b","x":0.32,"y":-0.25},{"s":"b","x":0.328,"y":-0.313},{"s":"b","x":0.335,"y":-0.2},
      {"s":"b","x":0.34,"y":-0.27},{"s":"b","x":0.345,"y":-0.228},{"s":"b","x":0.348,"y":-0.143},{"s":"b","x":0.355,"y":-0.17},
      {"s":"b","x":0.362,"y":-0.109},{"s":"b","x":0.366,"y":-0.14},{"s":"b","x":0.371,"y":-0.176},{"s":"b","x":0.375,"y":-0.075},
      {"s":"b","x":0.38,"y":-0.12},{"s":"b","x":0.388,"y":-0.1},{"s":"b","x":0.395,"y":-0.13},
      {"s":"b","x":0.4,"y":-0.09},{"s":"b","x":0.41,"y":-0.12},{"s":"b","x":0.42,"y":-0.07},{"s":"b","x":0.43,"y":-0.1},
      {"s":"b","x":0.44,"y":-0.06},{"s":"b","x":0.45,"y":-0.08},{"s":"b","x":0.46,"y":-0.05},{"s":"b","x":0.47,"y":-0.07},
      {"s":"b","x":0.48,"y":-0.04},{"s":"b","x":0.49,"y":-0.06},{"s":"b","x":0.5,"y":-0.03},{"s":"b","x":0.51,"y":-0.04},
      {"s":"b","x":0.52,"y":-0.02},{"s":"b","x":0.53,"y":-0.03},{"s":"b","x":0.54,"y":-0.01},{"s":"b","x":0.55,"y":-0.02},
      {"s":"b","x":0.56,"y":0.0},{"s":"b","x":0.57,"y":-0.01},{"s":"b","x":0.58,"y":0.01},{"s":"b","x":0.59,"y":0.0},
      {"s":"b","x":0.604,"y":0.02},{"s":"b","x":0.616,"y":0.0},{"s":"b","x":0.628,"y":0.02},{"s":"b","x":0.64,"y":0.01},
      {"s":"b","x":0.651,"y":0.03},{"s":"b","x":0.663,"y":0.01},{"s":"b","x":0.675,"y":0.02},{"s":"b","x":0.686,"y":0.03},
      {"s":"b","x":0.698,"y":0.01},{"s":"b","x":0.71,"y":0.02},{"s":"b","x":0.721,"y":0.03},{"s":"b","x":0.733,"y":0.02},
      {"s":"b","x":0.745,"y":0.03},{"s":"b","x":0.756,"y":0.01},{"s":"b","x":0.768,"y":0.03},{"s":"b","x":0.78,"y":0.02},
      {"s":"b","x":0.791,"y":0.04},{"s":"b","x":0.803,"y":0.02},{"s":"b","x":0.815,"y":0.03},{"s":"b","x":0.826,"y":0.04},
      {"s":"b","x":0.838,"y":0.02},{"s":"b","x":0.85,"y":0.03},{"s":"b","x":0.861,"y":0.02},{"s":"b","x":0.873,"y":0.04},
      {"s":"b","x":0.885,"y":0.03},{"s":"b","x":0.896,"y":0.02},{"s":"b","x":0.908,"y":0.04},{"s":"b","x":0.92,"y":0.03},
      {"s":"b","x":0.931,"y":0.05},{"s":"b","x":0.943,"y":0.02},{"s":"b","x":0.955,"y":0.03},{"s":"b","x":0.966,"y":0.04},
      {"s":"b","x":0.978,"y":0.02},{"s":"b","x":0.99,"y":0.04},{"s":"b","x":1.001,"y":0.03},{"s":"b","x":1.013,"y":0.05},
      {"s":"b","x":1.025,"y":0.03},{"s":"b","x":1.036,"y":0.02},{"s":"b","x":1.048,"y":0.04},{"s":"b","x":1.06,"y":0.03},
      {"s":"b","x":1.071,"y":0.05},{"s":"b","x":1.083,"y":0.03},{"s":"b","x":1.095,"y":0.04},{"s":"b","x":1.106,"y":0.02},
      {"s":"b","x":1.118,"y":0.04},{"s":"b","x":1.13,"y":0.05},{"s":"b","x":1.141,"y":0.03},{"s":"b","x":1.153,"y":0.04},
      {"s":"b","x":1.165,"y":0.02},{"s":"b","x":1.176,"y":0.04},{"s":"b","x":1.188,"y":0.05},{"s":"b","x":1.2,"y":0.03},
      {"s":"b","x":1.211,"y":0.04},{"s":"b","x":1.223,"y":0.02},{"s":"b","x":1.235,"y":0.04},{"s":"b","x":1.246,"y":0.05},
      {"s":"b","x":1.258,"y":0.03},{"s":"b","x":1.27,"y":0.04},{"s":"b","x":1.281,"y":0.02},{"s":"b","x":1.293,"y":0.05},
      {"s":"b","x":1.305,"y":0.04},{"s":"b","x":1.316,"y":0.03},{"s":"b","x":1.328,"y":0.06},{"s":"b","x":1.34,"y":0.02},
      {"s":"b","x":1.351,"y":0.04},{"s":"b","x":1.363,"y":0.05},{"s":"b","x":1.375,"y":0.03},{"s":"b","x":1.386,"y":0.06},
      {"s":"b","x":1.398,"y":0.04},{"s":"b","x":1.41,"y":0.02},{"s":"b","x":1.421,"y":0.05},{"s":"b","x":1.433,"y":0.04},
      {"s":"b","x":1.445,"y":0.08},{"s":"b","x":1.456,"y":0.02},{"s":"b","x":1.468,"y":0.05},{"s":"b","x":1.48,"y":0.06},
      {"s":"b","x":1.491,"y":0.03},{"s":"b","x":1.503,"y":0.05},{"s":"b","x":1.515,"y":0.02},{"s":"b","x":1.526,"y":0.06},
      {"s":"b","x":1.538,"y":0.08},{"s":"b","x":1.55,"y":0.04},{"s":"b","x":1.561,"y":0.03},{"s":"b","x":1.57,"y":0.05},
      {"s":"b","x":0.61,"y":0.01},{"s":"b","x":0.622,"y":0.02},{"s":"b","x":0.634,"y":0.0},{"s":"b","x":0.645,"y":0.02},
      {"s":"b","x":0.657,"y":0.01},{"s":"b","x":0.669,"y":0.03},{"s":"b","x":0.68,"y":0.02},{"s":"b","x":0.692,"y":0.01},
      {"s":"b","x":0.704,"y":0.03},{"s":"b","x":0.715,"y":0.02},{"s":"b","x":0.727,"y":0.01},{"s":"b","x":0.739,"y":0.03},
      {"s":"b","x":0.75,"y":0.02},{"s":"b","x":0.762,"y":0.03},{"s":"b","x":0.774,"y":0.01},{"s":"b","x":0.785,"y":0.03},
      {"s":"b","x":0.797,"y":0.02},{"s":"b","x":0.809,"y":0.04},{"s":"b","x":0.82,"y":0.02},{"s":"b","x":0.832,"y":0.03},
      {"s":"b","x":0.844,"y":0.02},{"s":"b","x":0.855,"y":0.04},{"s":"b","x":0.867,"y":0.03},{"s":"b","x":0.879,"y":0.02},
      {"s":"b","x":0.89,"y":0.04},{"s":"b","x":0.902,"y":0.03},{"s":"b","x":0.914,"y":0.02},{"s":"b","x":0.925,"y":0.04},
      {"s":"b","x":0.937,"y":0.03},{"s":"b","x":0.949,"y":0.04},{"s":"b","x":0.96,"y":0.02},{"s":"b","x":0.972,"y":0.04},
      {"s":"b","x":0.984,"y":0.03},{"s":"b","x":0.995,"y":0.04},{"s":"b","x":1.007,"y":0.02},{"s":"b","x":1.019,"y":0.04},
      {"s":"b","x":1.03,"y":0.03},{"s":"b","x":1.042,"y":0.05},{"s":"b","x":1.054,"y":0.03},{"s":"b","x":1.065,"y":0.04},
      {"s":"b","x":1.077,"y":0.02},{"s":"b","x":1.089,"y":0.04},{"s":"b","x":1.1,"y":0.03},{"s":"b","x":1.112,"y":0.05},
      {"s":"b","x":1.124,"y":0.03},{"s":"b","x":1.135,"y":0.04},{"s":"b","x":1.147,"y":0.02},{"s":"b","x":1.159,"y":0.04},
      {"s":"b","x":1.17,"y":0.03},{"s":"b","x":1.182,"y":0.05},{"s":"b","x":1.194,"y":0.03},{"s":"b","x":1.205,"y":0.04},
      {"s":"b","x":1.217,"y":0.03},{"s":"b","x":1.229,"y":0.05},{"s":"b","x":1.24,"y":0.02},{"s":"b","x":1.252,"y":0.04},
      {"s":"b","x":1.264,"y":0.03},{"s":"b","x":1.275,"y":0.05},{"s":"b","x":1.287,"y":0.03},{"s":"b","x":1.299,"y":0.04},
      {"s":"b","x":1.31,"y":0.02},{"s":"b","x":1.322,"y":0.05},{"s":"b","x":1.334,"y":0.03},{"s":"b","x":1.345,"y":0.04},
      {"s":"b","x":1.357,"y":0.06},{"s":"b","x":1.369,"y":0.03},{"s":"b","x":1.38,"y":0.05},{"s":"b","x":1.392,"y":0.02},
      {"s":"b","x":1.404,"y":0.04},{"s":"b","x":1.415,"y":0.06},{"s":"b","x":1.427,"y":0.03},{"s":"b","x":1.439,"y":0.05},
      {"s":"b","x":1.45,"y":0.07},{"s":"b","x":1.462,"y":0.03},{"s":"b","x":1.474,"y":0.05},{"s":"b","x":1.485,"y":0.02},
      {"s":"b","x":1.497,"y":0.06},{"s":"b","x":1.509,"y":0.04},{"s":"b","x":1.52,"y":0.07},{"s":"b","x":1.532,"y":0.03},
      {"s":"b","x":1.544,"y":0.05},{"s":"b","x":1.555,"y":0.02},{"s":"b","x":1.567,"y":0.06}
    ]
  },
  "vconcat": [
    {
      "width": 1624,
      "height": 1080,
      "data": {"name": "top"},
      "encoding": {
        "x": {
          "field": "x", "type": "quantitative",
          "scale": {"domain": [0, 1.6], "nice": false, "zero": false},
          "axis": {"labels": false, "title": null, "values": [0, 0.2, 0.4, 0.6, 0.8, 1.0, 1.2, 1.4, 1.6]}
        },
        "y": {
          "field": "y", "type": "quantitative",
          "scale": {"domain": [-3.5, 1.0], "nice": false, "zero": false},
          "axis": {"title": "log₁₀(Δι)", "format": ".1f", "titlePadding": 19,
                   "values": [-3.5, -3.0, -2.5, -2.0, -1.5, -1.0, -0.5, 0.0, 0.5, 1.0]}
        },
        "shape": {
          "field": "s", "type": "nominal",
          "scale": {"domain": ["g", "r", "b"], "range": ["circle", "M-1,-1L1,-1L0,1Z", "M-0.97,-0.27H-0.27V-0.97H0.27V-0.27H0.97V0.27H0.27V0.97H-0.27V0.27H-0.97Z"]},
          "legend": {
            "orient": "none", "legendX": 1160, "legendY": 28, "title": null,
            "labelExpr": "datum.value === 'g' ? 'e₀ = 0' : datum.value === 'r' ? 'e₀ = 0.1' : 'e₀ = 0.4'"
          }
        }
      },
      "layer": [
        {
          "mark": {"type": "point", "filled": true, "size": 900, "opacity": 1, "strokeWidth": 3, "strokeOpacity": 0.5},
          "encoding": {
            "fill": {
              "condition": [
                {"test": "datum.s === 'g'", "value": "#008000"},
                {"test": "datum.s === 'r'", "value": "#ff0000"}
              ],
              "value": "#0000ff"
            },
            "fillOpacity": {"condition": {"test": "datum.s === 'g'", "value": 1}, "value": 0.5},
            "stroke": {"condition": {"test": "datum.s === 'r'", "value": "#ff0000"}, "value": "transparent"}
          }
        },
        {
          "transform": [{"filter": "false"}],
          "mark": {"type": "point", "filled": true, "size": 900, "opacity": 1},
          "encoding": {
            "color": {
              "field": "s", "type": "nominal",
              "scale": {"domain": ["g", "r", "b"], "range": ["#008000", "#ff8080", "#8080ff"]},
              "legend": {
                "orient": "none", "legendX": 1160, "legendY": 28, "title": null,
                "labelExpr": "datum.value === 'g' ? 'e₀ = 0' : datum.value === 'r' ? 'e₀ = 0.1' : 'e₀ = 0.4'"
              }
            }
          }
        }
      ]
    },
    {
      "width": 1624,
      "height": 432,
      "data": {"name": "bot"},
      "encoding": {
        "x": {
          "field": "x", "type": "quantitative",
          "scale": {"domain": [0, 1.6], "nice": false, "zero": false},
          "axis": {"title": "inclination angle ι", "format": ".1f", "titlePadding": 14,
                   "values": [0, 0.2, 0.4, 0.6, 0.8, 1.0, 1.2, 1.4, 1.6]}
        },
        "y": {
          "field": "y", "type": "quantitative",
          "scale": {"domain": [-2.0, 0.2], "nice": false, "zero": false},
          "axis": {"title": "log₁₀(RΔι)", "format": ".1f", "titlePadding": 19,
                   "values": [-2.0, -1.5, -1.0, -0.5, 0.0]}
        }
      },
      "layer": [
        {
          "transform": [{"filter": "datum.s === 'r'"}],
          "mark": {"type": "point", "filled": true, "size": 900, "opacity": 1,
                   "shape": "M-1,-1L1,-1L0,1Z",
                   "fill": "#ff0000", "fillOpacity": 0.5,
                   "stroke": "#ff0000", "strokeOpacity": 0.5, "strokeWidth": 3}
        },
        {
          "transform": [{"filter": "datum.s === 'b'"}],
          "mark": {"type": "point", "filled": true, "size": 900, "opacity": 1,
                   "shape": "M-0.97,-0.27H-0.27V-0.97H0.27V-0.27H0.97V0.27H0.27V0.97H-0.27V0.27H-0.97Z",
                   "fill": "#0000ff", "fillOpacity": 0.5, "strokeWidth": 0}
        }
      ]
    }
  ],
  "spacing": 74,
  "bounds": "flush",
  "resolve": {"scale": {"x": "independent", "y": "independent"}},
  "config": {
    "font": "DejaVu Sans",
    "view": {"stroke": "black", "strokeWidth": 3.3},
    "axis": {
      "grid": false, "domain": false,
      "tickColor": "black", "tickWidth": 3.3, "tickSize": 15,
      "labelFont": "DejaVu Sans", "labelFontSize": 41.7, "labelColor": "black", "labelPadding": 13,
      "labelFlush": false, "labelOverlap": false,
      "titleFont": "DejaVu Sans", "titleFontSize": 58, "titleFontWeight": "normal", "titleColor": "black"
    },
    "legend": {
      "labelFont": "DejaVu Sans", "labelFontSize": 58, "labelColor": "black", "labelLimit": 600,
      "symbolSize": 900, "symbolOffset": 33, "labelOffset": 74, "symbolStrokeWidth": 0,
      "rowPadding": 28, "padding": 23,
      "fillColor": "rgba(255,255,255,0.8)", "strokeColor": "#d6d6d6", "cornerRadius": 13
    }
  }
}
